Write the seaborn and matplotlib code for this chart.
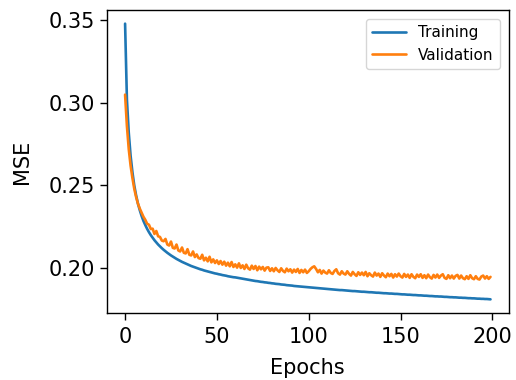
import numpy as np
import pandas as pd
import matplotlib
matplotlib.use("Agg")
import matplotlib.pyplot as plt
import seaborn as sns

training = [
    0.348, 0.302, 0.282, 0.268, 0.258, 0.250, 0.244, 0.239, 0.235, 0.2315,
    0.2285, 0.226, 0.2237, 0.2217, 0.2199, 0.2183, 0.2168, 0.2155, 0.2142, 0.2131,
    0.2120, 0.2110, 0.2101, 0.2092, 0.2084, 0.2076, 0.2069, 0.2062, 0.2055, 0.2049,
    0.2043, 0.2037, 0.2032, 0.2027, 0.2022, 0.2017, 0.2012, 0.2008, 0.2004, 0.2000,
    0.1996, 0.1992, 0.1989, 0.1985, 0.1982, 0.1979, 0.1976, 0.1973, 0.1970, 0.1967,
    0.1965, 0.1962, 0.1960, 0.1957, 0.1955, 0.1953, 0.1950, 0.1948, 0.1946, 0.1944,
    0.1943, 0.1941, 0.1939, 0.1937, 0.1935, 0.1933, 0.1931, 0.1929, 0.1927, 0.1925,
    0.1923, 0.1921, 0.1920, 0.1918, 0.1916, 0.1915, 0.1913, 0.1912, 0.1910, 0.1909,
    0.1907, 0.1906, 0.1904, 0.1903, 0.1902, 0.1900, 0.1899, 0.1898, 0.1896, 0.1895,
    0.1894, 0.1893, 0.1891, 0.1890, 0.1889, 0.1888, 0.1887, 0.1886, 0.1885, 0.1884,
    0.1883, 0.1882, 0.1881, 0.1880, 0.1879, 0.1878, 0.1877, 0.1876, 0.1875, 0.1874,
    0.1873, 0.1872, 0.1871, 0.1870, 0.1869, 0.1868, 0.1867, 0.1866, 0.1866, 0.1865,
    0.1864, 0.1863, 0.1862, 0.1861, 0.1860, 0.1860, 0.1859, 0.1858, 0.1857, 0.1856,
    0.1856, 0.1855, 0.1854, 0.1853, 0.1853, 0.1852, 0.1851, 0.1850, 0.1850, 0.1849,
    0.1848, 0.1847, 0.1847, 0.1846, 0.1845, 0.1845, 0.1844, 0.1843, 0.1843, 0.1842,
    0.1841, 0.1840, 0.1840, 0.1839, 0.1838, 0.1838, 0.1837, 0.1836, 0.1836, 0.1835,
    0.1834, 0.1834, 0.1833, 0.1832, 0.1832, 0.1831, 0.1830, 0.1830, 0.1829, 0.1828,
    0.1828, 0.1827, 0.1827, 0.1826, 0.1825, 0.1825, 0.1824, 0.1823, 0.1823, 0.1822,
    0.1822, 0.1821, 0.1820, 0.1820, 0.1819, 0.1819, 0.1818, 0.1817, 0.1817, 0.1816,
    0.1816, 0.1815, 0.1814, 0.1814, 0.1813, 0.1813, 0.1812, 0.1812, 0.1811, 0.1810,
]

validation = [
    0.3050, 0.2860, 0.2720, 0.2620, 0.2545, 0.2480, 0.2430, 0.2390, 0.2360, 0.2335,
    0.2310, 0.2292, 0.2268, 0.2262, 0.2236, 0.2238, 0.2206, 0.2224, 0.2192, 0.2188,
    0.2166, 0.2162, 0.2176, 0.2142, 0.2136, 0.2160, 0.2122, 0.2118, 0.2142, 0.2106,
    0.2100, 0.2124, 0.2092, 0.2088, 0.2114, 0.2080, 0.2076, 0.2100, 0.2066, 0.2082,
    0.2060, 0.2056, 0.2080, 0.2046, 0.2062, 0.2040, 0.2068, 0.2034, 0.2052, 0.2030,
    0.2046, 0.2024, 0.2042, 0.2020, 0.2038, 0.2014, 0.2032, 0.2010, 0.2036, 0.2006,
    0.2022, 0.2002, 0.2028, 0.2000, 0.2016, 0.1994, 0.2020, 0.1998, 0.1990, 0.2014,
    0.1994, 0.2012, 0.1986, 0.2008, 0.1992, 0.2006, 0.1984, 0.2002, 0.2004, 0.1982,
    0.1998, 0.1980, 0.2000, 0.1986, 0.1976, 0.1998, 0.1982, 0.1974, 0.1996, 0.1980,
    0.1992, 0.1972, 0.1990, 0.1976, 0.1994, 0.1970, 0.1988, 0.1974, 0.1990, 0.1970,
    0.1980, 0.1994, 0.2004, 0.2010, 0.1994, 0.1974, 0.1988, 0.1966, 0.1984, 0.1972,
    0.1966, 0.1986, 0.1970, 0.1964, 0.1982, 0.1992, 0.1968, 0.1960, 0.1980, 0.1966,
    0.1960, 0.1980, 0.1964, 0.1954, 0.1976, 0.1962, 0.1952, 0.1974, 0.1958, 0.1972,
    0.1956, 0.1976, 0.1950, 0.1968, 0.1956, 0.1948, 0.1972, 0.1954, 0.1966, 0.1946,
    0.1968, 0.1954, 0.1944, 0.1966, 0.1950, 0.1964, 0.1942, 0.1962, 0.1948, 0.1966,
    0.1950, 0.1942, 0.1964, 0.1946, 0.1960, 0.1940, 0.1962, 0.1946, 0.1938, 0.1960,
    0.1946, 0.1962, 0.1940, 0.1956, 0.1938, 0.1960, 0.1944, 0.1936, 0.1958, 0.1942,
    0.1960, 0.1940, 0.1954, 0.1962, 0.1940, 0.1934, 0.1956, 0.1938, 0.1954, 0.1936,
    0.1952, 0.1958, 0.1936, 0.1954, 0.1938, 0.1932, 0.1950, 0.1934, 0.1956, 0.1938,
    0.1932, 0.1950, 0.1934, 0.1930, 0.1948, 0.1954, 0.1936, 0.1950, 0.1934, 0.1946,
]

series_names = ["Training", "Validation"]
epochs = list(range(len(training)))

df = pd.DataFrame({
    "Epochs": epochs * 2,
    "MSE": training + validation,
    "Set": [series_names[0]] * len(training) + [series_names[1]] * len(validation),
})

sns.set_style("ticks")
plt.rcParams["font.family"] = ["DejaVu Sans"]
plt.rcParams["text.color"] = "black"
plt.rcParams["axes.labelcolor"] = "black"
plt.rcParams["xtick.color"] = "black"
plt.rcParams["ytick.color"] = "black"

fig, ax = plt.subplots(figsize=(5.16, 3.80), dpi=100)
fig.subplots_adjust(left=0.207, right=0.986, top=0.974, bottom=0.176)

sns.lineplot(data=df, x="Epochs", y="MSE", hue="Set",
             palette=["#1f77b4", "#ff7f0e"], linewidth=1.9, ax=ax)

ax.set_xticks([0, 50, 100, 150, 200])
ax.set_yticks([0.20, 0.25, 0.30, 0.35])
ax.tick_params(labelsize=15, length=5, width=1, colors="black")
ax.tick_params(axis="x", pad=5)
ax.set_xlabel("Epochs", fontsize=15, labelpad=8)
ax.set_ylabel("MSE", fontsize=15, labelpad=12)
for s in ax.spines.values():
    s.set_linewidth(1.0)
    s.set_color("black")

leg = ax.legend(loc="upper right", fontsize=11, frameon=True, fancybox=True,
                handlelength=2.2, borderaxespad=0.6)
leg.set_title(None)

fig.savefig("out.png", dpi=100)
